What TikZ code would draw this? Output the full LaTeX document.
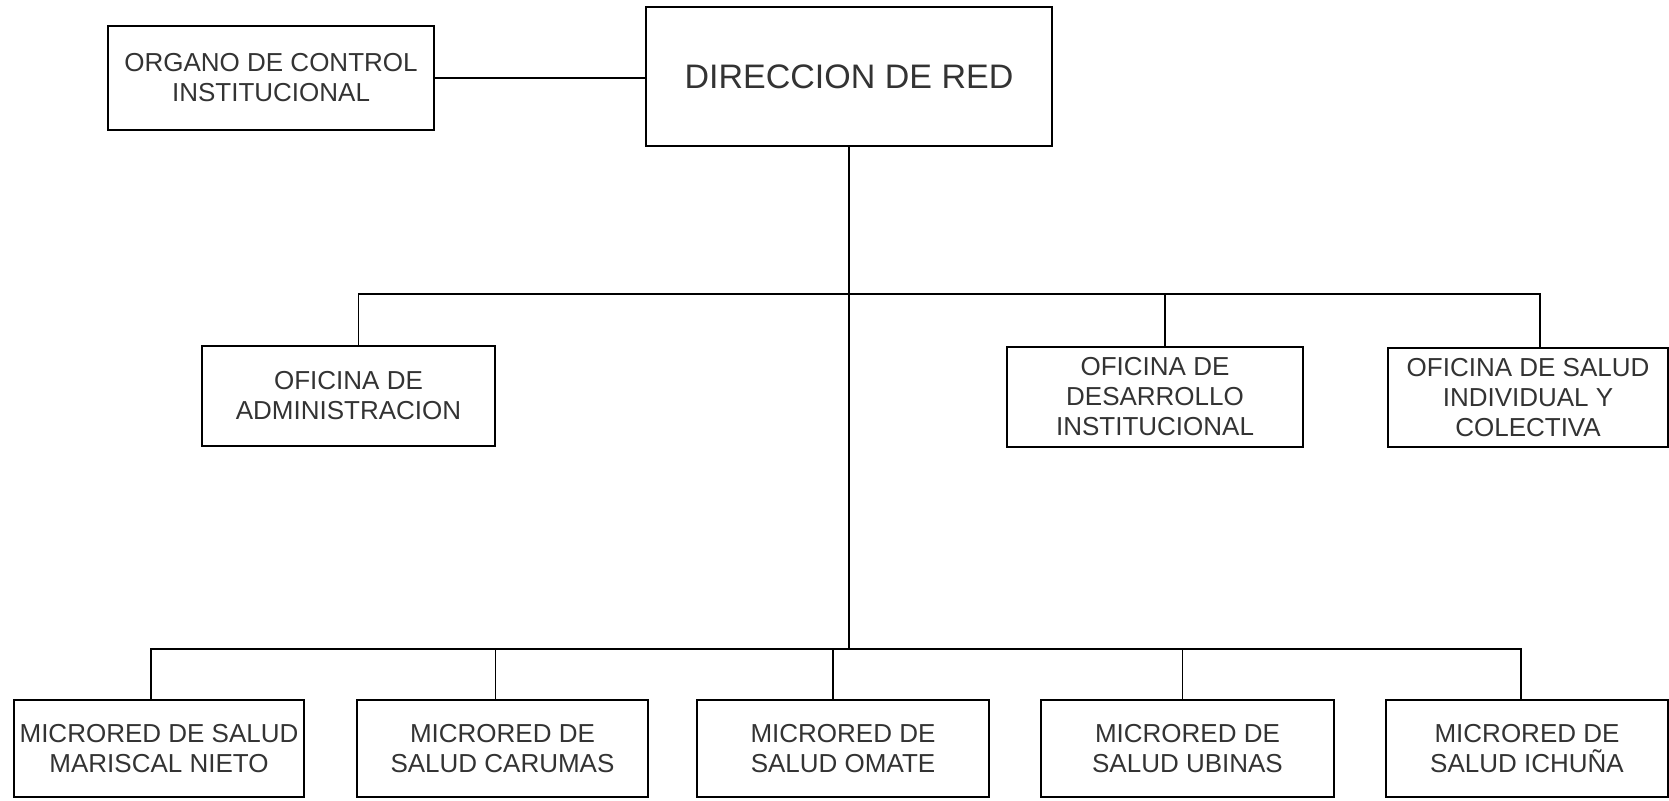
\documentclass[tikz,border=0pt]{standalone}
\usepackage{fontspec}
\setmainfont{Liberation Sans}
\begin{document}
\begin{tikzpicture}[x=0.5pt,y=-0.5pt,
  box/.style={draw=black, line width=0.8pt, align=center, inner sep=0pt,
    minimum height=50pt, text=black!80, font=\fontsize{13}{15}\selectfont},
  wire/.style={draw=black, line width=0.8pt}]
\useasboundingbox (0,0) rectangle (1669,800);
% top level
\node[box, minimum width=163pt, minimum height=52pt] (organo) at (271,78) {ORGANO DE CONTROL\\INSTITUCIONAL};
\node[box, minimum width=203pt, minimum height=69.5pt, font=\fontsize{17}{20}\selectfont] (direccion) at (849,76.5) {DIRECCION DE RED};
% second level
\node[box, minimum width=146.5pt] (admin) at (348.5,396) {OFICINA DE\\ADMINISTRACION};
\node[box, minimum width=148pt] (desarrollo) at (1155,397) {OFICINA DE\\DESARROLLO\\INSTITUCIONAL};
\node[box, minimum width=140pt, minimum height=49.5pt] (salud) at (1528,397.5) {OFICINA DE SALUD\\INDIVIDUAL Y\\COLECTIVA};
% third level
\node[box, minimum width=145pt, minimum height=48.5pt] (m1) at (159,748.5) {MICRORED DE SALUD\\MARISCAL NIETO};
\node[box, minimum width=145.5pt, minimum height=48.5pt] (m2) at (502.5,748.5) {MICRORED DE\\SALUD CARUMAS};
\node[box, minimum width=146pt, minimum height=48.5pt] (m3) at (843,748.5) {MICRORED DE\\SALUD OMATE};
\node[box, minimum width=146.5pt, minimum height=48.5pt] (m4) at (1187.5,748.5) {MICRORED DE\\SALUD UBINAS};
\node[box, minimum width=141pt, minimum height=48.5pt] (m5) at (1527,748.5) {MICRORED DE\\SALUD ICHUÑA};
% bus coordinates
\coordinate (mbus) at (849,294);
\coordinate (bbus) at (849,649);
% connectors
\draw[wire] (organo.east) -- (organo.east -| direccion.west);
\draw[wire] (direccion.south) -- (bbus);
\draw[wire] ([xshift=5pt]admin.north) |- (mbus) -| ([xshift=6pt]salud.north);
\draw[wire] ([xshift=5pt]desarrollo.north) -- ([xshift=5pt]desarrollo.north |- mbus);
\draw[wire] ([xshift=-4pt]m1.north) |- (bbus) -| ([xshift=-3pt]m5.north);
\draw[wire] ([xshift=-3.5pt]m2.north) -- ([xshift=-3.5pt]m2.north |- bbus);
\draw[wire] ([xshift=-5pt]m3.north) -- ([xshift=-5pt]m3.north |- bbus);
\draw[wire] ([xshift=-2.5pt]m4.north) -- ([xshift=-2.5pt]m4.north |- bbus);
\end{tikzpicture}
\end{document}
